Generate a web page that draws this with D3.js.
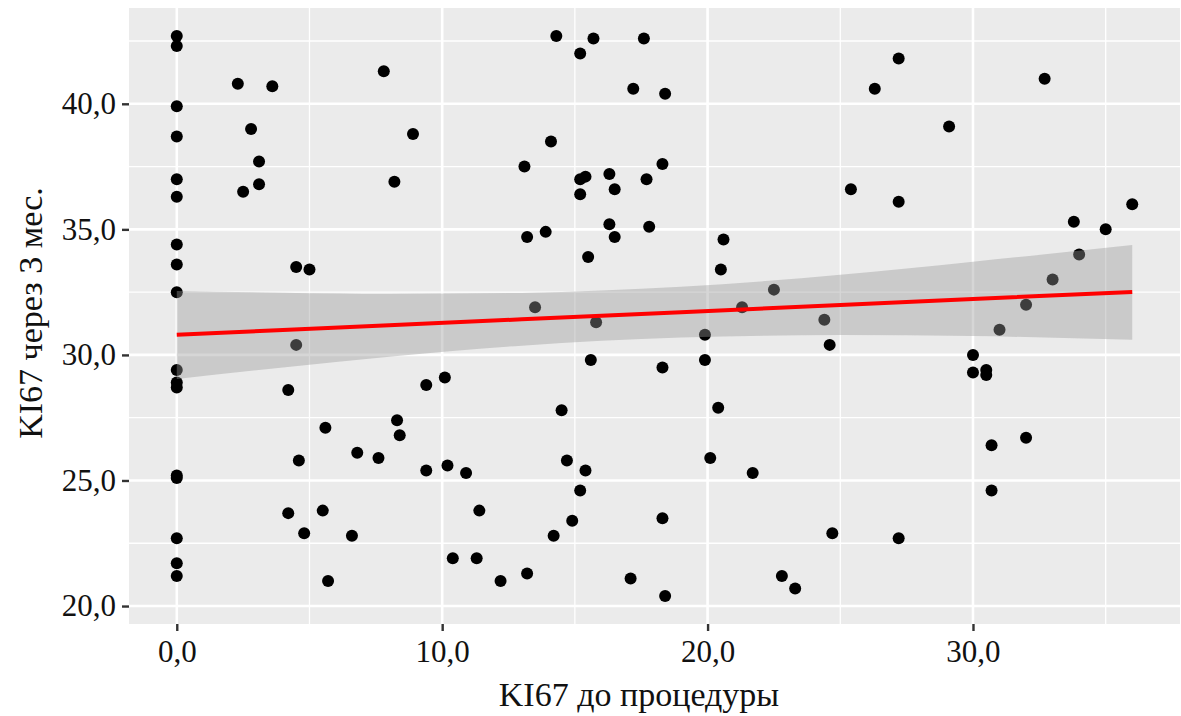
<!DOCTYPE html>
<html>
<head>
<meta charset="utf-8">
<script src="https://cdn.jsdelivr.net/npm/d3@7"></script>
<style>
  body { margin: 0; background: #fff; }
  text { font-family: "Liberation Serif", "DejaVu Serif", serif; fill: #111; }
</style>
</head>
<body>
<script>
// KI67 before procedure (x) and after 3 months (y)
var ki67Before = [
  0, 0, 0, 0, 0, 0, 0, 0, 0, 0, 0, 0, 0, 0, 0, 0, 0,
  2.3, 3.6, 7.8, 2.8, 3.1, 3.1, 2.5, 8.2, 4.5, 5.0, 4.5, 4.2, 5.6, 8.3, 8.4, 6.8, 7.6, 4.6, 4.2, 5.5, 4.8, 6.6, 5.7,
  14.3, 15.7, 17.6, 15.2, 17.2, 18.4, 8.9, 14.1, 13.1, 18.3, 16.3, 15.2, 15.4, 17.7, 16.5, 15.2, 16.3, 17.8, 13.2, 13.9, 16.5, 15.5, 13.5,
  15.8, 15.6, 18.3, 10.1, 9.4, 14.5, 9.4, 10.2, 10.9, 14.7, 15.4, 15.2, 11.4, 14.9, 18.3, 14.2, 10.4, 11.3, 12.2, 13.2, 17.1, 18.4,
  27.2, 26.3, 29.1, 25.4, 27.2, 20.6, 20.5, 22.5, 21.3, 24.4,
  19.9, 19.9, 24.6, 20.4, 20.1, 21.7, 24.7, 27.2, 22.8, 23.3,
  32.7, 36.0, 33.8, 35.0, 34.0, 33.0, 32.0, 31.0, 30.0, 30.0, 30.5, 30.5, 30.7, 32.0, 30.7
];
var ki67After3m = [
  42.7, 42.3, 39.9, 38.7, 37.0, 36.3, 34.4, 33.6, 32.5, 29.4, 28.9, 28.7, 25.2, 25.1, 22.7, 21.7, 21.2,
  40.8, 40.7, 41.3, 39.0, 37.7, 36.8, 36.5, 36.9, 33.5, 33.4, 30.4, 28.6, 27.1, 27.4, 26.8, 26.1, 25.9, 25.8, 23.7, 23.8, 22.9, 22.8, 21.0,
  42.7, 42.6, 42.6, 42.0, 40.6, 40.4, 38.8, 38.5, 37.5, 37.6, 37.2, 37.0, 37.1, 37.0, 36.6, 36.4, 35.2, 35.1, 34.7, 34.9, 34.7, 33.9, 31.9,
  31.3, 29.8, 29.5, 29.1, 28.8, 27.8, 25.4, 25.6, 25.3, 25.8, 25.4, 24.6, 23.8, 23.4, 23.5, 22.8, 21.9, 21.9, 21.0, 21.3, 21.1, 20.4,
  41.8, 40.6, 39.1, 36.6, 36.1, 34.6, 33.4, 32.6, 31.9, 31.4,
  30.8, 29.8, 30.4, 27.9, 25.9, 25.3, 22.9, 22.7, 21.2, 20.7,
  41.0, 36.0, 35.3, 35.0, 34.0, 33.0, 32.0, 31.0, 30.0, 29.3, 29.4, 29.2, 26.4, 26.7, 24.6
];

// linear smoother (lm) with its 95% band
var smoothX  = [0, 4, 8, 13, 19, 25, 30, 36];
var smoothY  = [30.80, 30.99, 31.18, 31.42, 31.70, 31.99, 32.23, 32.51];
var smoothLo = [29.04, 29.50, 29.93, 30.37, 30.69, 30.79, 30.75, 30.60];
var smoothHi = [32.55, 32.48, 32.43, 32.47, 32.71, 33.19, 33.71, 34.38];

var xTicks = [0, 10, 20, 30];
var yTicks = [20, 25, 30, 35, 40];
var xMinor = [5, 15, 25, 35];
var yMinor = [22.5, 27.5, 32.5, 37.5, 42.5];
var xTitle = "KI67 до процедуры";
var yTitle = "KI67 через 3 мес.";

var w = 1181, h = 716;
var panel = { left: 129, right: 1180, top: 8, bottom: 624 };

var points = ki67Before.map(function(d, i) { return { x: d, y: ki67After3m[i] }; });
var smooth = smoothX.map(function(d, i) {
  return { x: d, y: smoothY[i], lo: smoothLo[i], hi: smoothHi[i] };
});

// ggplot style 5% expansion
function expand(ext) {
  var pad = (ext[1] - ext[0]) * 0.05;
  return [ext[0] - pad, ext[1] + pad];
}

var xScale = d3.scaleLinear().domain(expand(d3.extent(ki67Before))).range([panel.left, panel.right]);
var yScale = d3.scaleLinear().domain(expand(d3.extent(ki67After3m))).range([panel.bottom, panel.top]);

var ru = d3.formatLocale({ decimal: ",", thousands: " ", grouping: [3], currency: ["", ""] });
var fmt = ru.format(".1f");

var svg = d3.select("body").append("svg")
  .attr("width", w)
  .attr("height", h);

svg.append("rect")
  .attr("x", panel.left).attr("y", panel.top)
  .attr("width", panel.right - panel.left)
  .attr("height", panel.bottom - panel.top)
  .attr("fill", "#ebebeb");

// grid
var grid = svg.append("g").attr("stroke", "#fff");
grid.selectAll(".xmin").data(xMinor).enter().append("line")
  .attr("x1", xScale).attr("x2", xScale)
  .attr("y1", panel.top).attr("y2", panel.bottom)
  .attr("stroke-width", 1.3);
grid.selectAll(".ymin").data(yMinor).enter().append("line")
  .attr("y1", yScale).attr("y2", yScale)
  .attr("x1", panel.left).attr("x2", panel.right)
  .attr("stroke-width", 1.3);
grid.selectAll(".xmaj").data(xTicks).enter().append("line")
  .attr("x1", xScale).attr("x2", xScale)
  .attr("y1", panel.top).attr("y2", panel.bottom)
  .attr("stroke-width", 2.6);
grid.selectAll(".ymaj").data(yTicks).enter().append("line")
  .attr("y1", yScale).attr("y2", yScale)
  .attr("x1", panel.left).attr("x2", panel.right)
  .attr("stroke-width", 2.6);

// points
svg.append("g").selectAll("circle")
  .data(points)
  .enter()
  .append("circle")
  .attr("cx", function(d) { return xScale(d.x); })
  .attr("cy", function(d) { return yScale(d.y); })
  .attr("r", 6)
  .attr("fill", "#000");

// confidence band (drawn over the points, like geom_smooth)
var band = d3.area()
  .x(function(d) { return xScale(d.x); })
  .y0(function(d) { return yScale(d.lo); })
  .y1(function(d) { return yScale(d.hi); })
  .curve(d3.curveMonotoneX);
svg.append("path")
  .datum(smooth)
  .attr("d", band)
  .attr("fill", "#999999")
  .attr("fill-opacity", 0.4);

var line = d3.line()
  .x(function(d) { return xScale(d.x); })
  .y(function(d) { return yScale(d.y); });
svg.append("path")
  .datum(smooth)
  .attr("d", line)
  .attr("fill", "none")
  .attr("stroke", "#ff0000")
  .attr("stroke-width", 4);

// axes
var xAxis = d3.axisBottom(xScale).tickValues(xTicks).tickFormat(fmt).tickSize(7).tickPadding(9);
var yAxis = d3.axisLeft(yScale).tickValues(yTicks).tickFormat(fmt).tickSize(7).tickPadding(6);

var gx = svg.append("g").attr("transform", "translate(0," + panel.bottom + ")").call(xAxis);
var gy = svg.append("g").attr("transform", "translate(" + panel.left + ",0)").call(yAxis);
[gx, gy].forEach(function(g) {
  g.select(".domain").remove();
  g.selectAll(".tick line").attr("stroke", "#333").attr("stroke-width", 2.4);
  g.selectAll(".tick text")
    .attr("fill", "#111")
    .style("font-family", "'Liberation Serif', serif")
    .style("font-size", "31px");
});

svg.append("text")
  .attr("x", 639)
  .attr("y", 706)
  .attr("text-anchor", "middle")
  .style("font-size", "34px")
  .text(xTitle);

svg.append("text")
  .attr("transform", "translate(42," + 313 + ") rotate(-90)")
  .attr("text-anchor", "middle")
  .style("font-size", "34px")
  .text(yTitle);
</script>
</body>
</html>
